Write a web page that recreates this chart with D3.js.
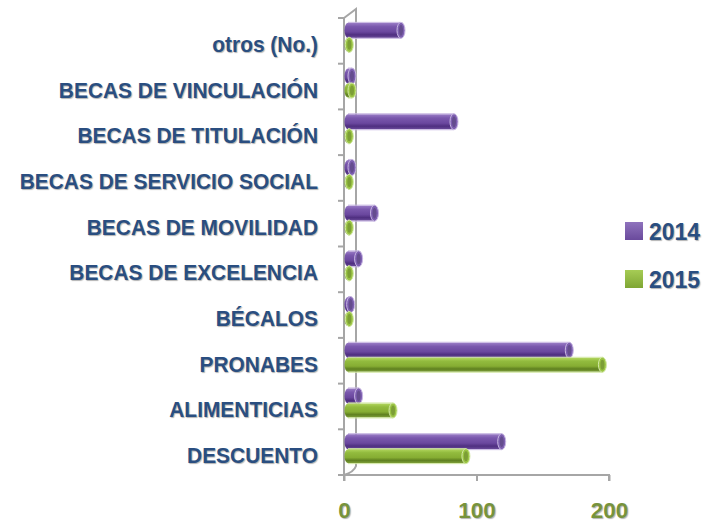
<!DOCTYPE html>
<html><head><meta charset="utf-8">
<script src="https://cdn.jsdelivr.net/npm/d3@7"></script>
<style>
html,body{margin:0;padding:0;background:#fff;}
svg text{font-family:"Liberation Sans",Arial,sans-serif;font-weight:bold;}
</style></head>
<body>
<svg id="c" width="704" height="523"></svg>
<script>
const categories = ["otros (No.)","BECAS DE VINCULACIÓN","BECAS DE TITULACIÓN","BECAS DE SERVICIO SOCIAL","BECAS DE MOVILIDAD","BECAS DE EXCELENCIA","BÉCALOS","PRONABES","ALIMENTICIAS","DESCUENTO"];
const values2014 = [40, 3, 80, 3, 20, 8, 2, 167, 8, 116];
const values2015 = [1, 3, 1, 1, 1, 1, 1, 192, 34, 89];
const seriesNames = ["2014","2015"];
const xTicks = [0, 100, 200];

const svg = d3.select("#c");
const defs = svg.append("defs");
function grad(id, stops){
  const g = defs.append("linearGradient").attr("id",id).attr("x1",0).attr("y1",0).attr("x2",0).attr("y2",1);
  stops.forEach(s=>g.append("stop").attr("offset",s[0]).attr("stop-color",s[1]));
}
grad("gp",[[0,"#9a7cc6"],[0.25,"#7a58ad"],[0.6,"#6a479e"],[0.8,"#4f2f80"],[1,"#6a4a9a"]]);
grad("gg",[[0,"#b2d65e"],[0.25,"#92bb3e"],[0.6,"#86ad33"],[0.8,"#5f8020"],[1,"#7fa03a"]]);
grad("lp",[[0,"#8f73bd"],[1,"#6a4a9c"]]);
grad("lg",[[0,"#a6cc55"],[1,"#7fa634"]]);
const palette = {"2014":{body:"url(#gp)",cap:"#7d5fb0",rim:"#c8b7e2",sw:"url(#lp)"},
                 "2015":{body:"url(#gg)",cap:"#9ac443",rim:"#d2e8a4",sw:"url(#lg)"}};

const x = d3.scaleLinear().domain([0,200]).range([344,609]);
const y = d3.scaleBand().domain(categories).range([18,475]);
const depthX = 12, depthY = 9, barShift = 4;

const axisColor = "#a6a6a6";
// back wall / 3D frame
svg.append("path").attr("fill","none").attr("stroke",axisColor).attr("stroke-width",2)
  .attr("d",`M${x(0)},${y.range()[0]} L${x(0)+depthX},${y.range()[0]-depthY} L${x(0)+depthX},${y.range()[1]-depthY} Q${x(0)+depthX-2},${y.range()[1]-3} ${x(0)},${y.range()[1]}`);
// front y axis
svg.append("line").attr("x1",x(0)).attr("x2",x(0)).attr("y1",y.range()[0]).attr("y2",y.range()[1])
  .attr("stroke",axisColor).attr("stroke-width",2);
// y ticks
const yTickPos = categories.map(c=>y(c)).concat([y.range()[1]]);
svg.selectAll(".yt").data(yTickPos).enter().append("line")
  .attr("x1",x(0)-6).attr("x2",x(0)).attr("y1",d=>d).attr("y2",d=>d)
  .attr("stroke",axisColor).attr("stroke-width",2);
// x axis
const xAxis = d3.axisBottom(x).tickValues(xTicks).tickSize(6).tickFormat(d3.format("d"));
const gx = svg.append("g").attr("transform",`translate(0,${y.range()[1]})`).call(xAxis);
gx.select(".domain").attr("stroke",axisColor).attr("stroke-width",2).attr("d",`M${x(0)},6V0H${x(200)}V6`);
gx.selectAll(".tick line").attr("stroke",axisColor).attr("stroke-width",2);
gx.selectAll(".tick text").attr("fill","#77933c").attr("font-size",22.5).attr("y",43).attr("dy",0)
  .style("text-shadow","1px 1px 1px rgba(0,0,0,0.3)");

// bars (cylinders)
const barH = 15;
function cyl(g, x0, x1, yTop, h, pal){
  const ry = h/2, rx = 3.5;
  g.append("rect").attr("x",x0).attr("y",yTop).attr("width",Math.max(0,x1-x0)).attr("height",h)
    .attr("fill",pal.body);
  g.append("ellipse").attr("cx",x0).attr("cy",yTop+ry).attr("rx",rx).attr("ry",ry).attr("fill",pal.body);
  g.append("path").attr("fill","none").attr("stroke",pal.rim).attr("stroke-width",1)
    .attr("d",`M${x0},${yTop-0.5}H${x1}M${x0},${yTop+h+0.5}H${x1}`);
  g.append("ellipse").attr("cx",x1).attr("cy",yTop+ry).attr("rx",rx+0.5).attr("ry",ry+0.5)
    .attr("fill",pal.cap).attr("stroke",pal.rim).attr("stroke-width",1);
  g.append("ellipse").attr("cx",x1).attr("cy",yTop+ry).attr("rx",rx-1.5).attr("ry",ry-2)
    .attr("fill",d3.color(pal.cap).darker(0.6));
}
const barsG = svg.append("g");
categories.forEach((c,i)=>{
  const center = y(c)+y.bandwidth()/2;
  const top = center - 18;
  cyl(barsG, x(0)+barShift, x(values2014[i])+barShift, top, barH, palette["2014"]);
  cyl(barsG, x(0)+barShift, x(values2015[i])+barShift, top+barH, barH-1, palette["2015"]);
});

// category labels
svg.selectAll(".cl").data(categories).enter().append("text")
  .attr("transform",d=>`translate(318,${y(d)+y.bandwidth()/2+11}) scale(0.93,1)`)
  .attr("text-anchor","end").attr("font-size",22.5).attr("fill","#2a4e80")
  .style("text-shadow","1px 1px 1px rgba(0,0,0,0.3)")
  .text(d=>d);

// legend
const lg = svg.append("g");
seriesNames.forEach((s,i)=>{
  const yy = 222 + i*48;
  lg.append("rect").attr("x",625).attr("y",yy).attr("width",18).attr("height",18)
    .attr("fill",palette[s].sw);
  lg.append("text").attr("x",649).attr("y",yy+18)
    .attr("font-size",23).attr("fill","#2a4e80")
    .style("text-shadow","1px 1px 1px rgba(0,0,0,0.3)").text(s);
});
</script>
</body></html>
